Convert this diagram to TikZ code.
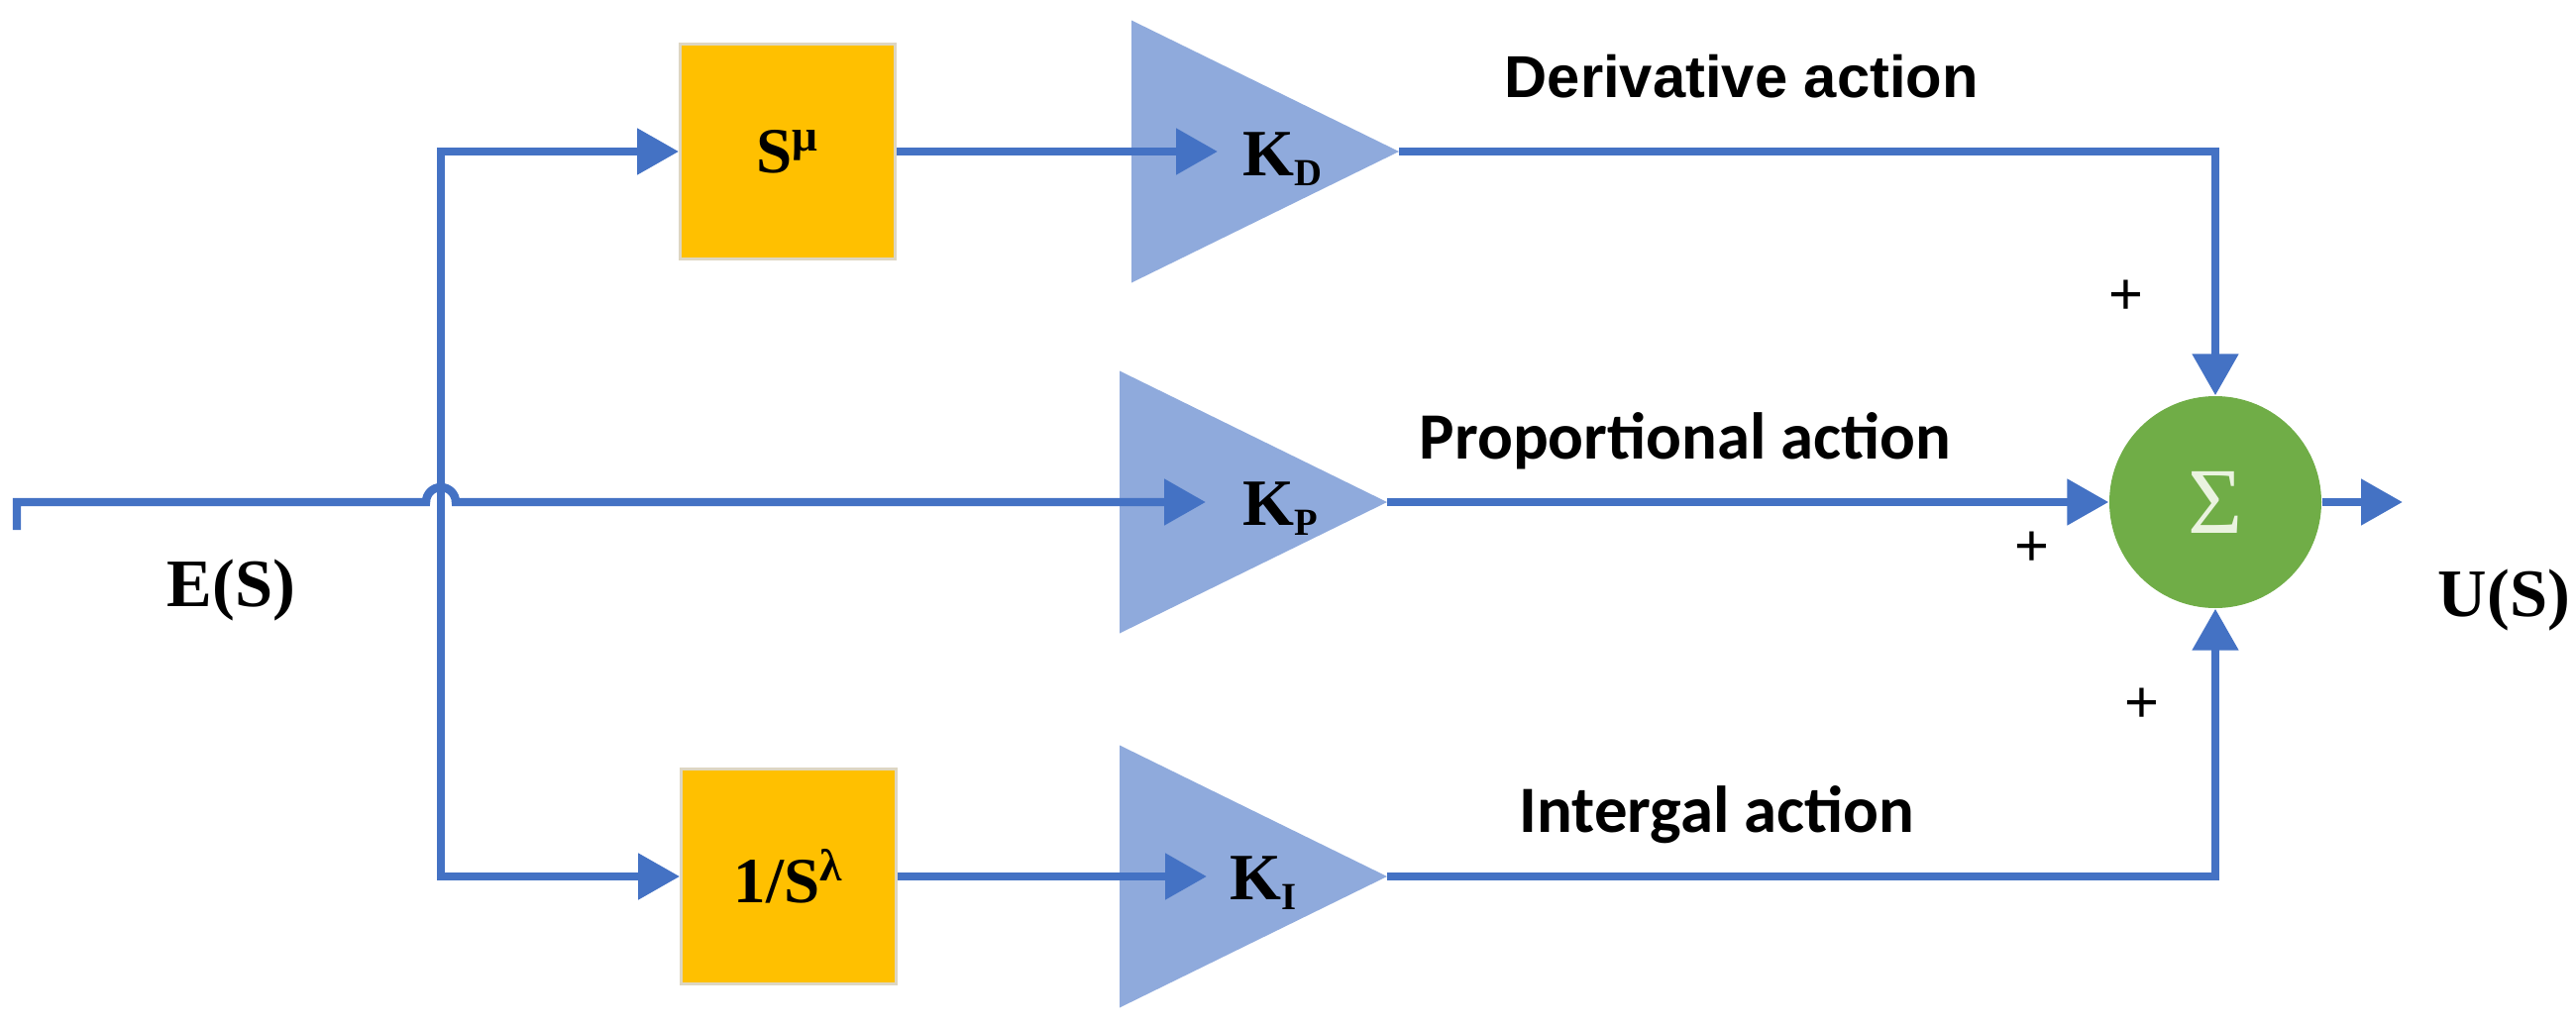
\documentclass[tikz,border=0pt]{standalone}
\usepackage{fontspec}
\setmainfont{Liberation Serif}
\newfontfamily\calfont{Carlito}
\newfontfamily\arialfont{Liberation Sans}
\usetikzlibrary{arrows.meta,shapes.geometric}
\definecolor{wireblue}{HTML}{4472C4}
\definecolor{gainblue}{HTML}{8FAADC}
\definecolor{blockgold}{HTML}{FFC000}
\definecolor{blockrim}{HTML}{DDD6C2}
\definecolor{sumgreen}{HTML}{70AD47}
\definecolor{sigmapale}{HTML}{EAF3E0}
\newcommand{\gsub}[1]{\raisebox{-3pt}{\fontsize{11}{13}\selectfont #1}}

\begin{document}
\begin{tikzpicture}[>={Triangle[length=4.2mm,width=4.5mm]},
  wire/.style={draw=wireblue, line width=2.4pt},
  block/.style={fill=blockgold, draw=blockrim, line width=0.8pt, minimum width=2.17cm, minimum height=2.17cm, inner sep=0pt, font=\fontsize{18.5}{22}\selectfont\bfseries},
  gain/.style={isosceles triangle, isosceles triangle stretches, fill=gainblue, minimum width=2.65cm, minimum height=2.7cm, inner sep=0pt, outer sep=0pt, anchor=west},
  glabel/.style={anchor=base west, inner sep=0pt, font=\fontsize{19}{23}\selectfont\bfseries},
  action/.style={anchor=base west, inner sep=0pt, font=\fontsize{19}{23}\selectfont\calfont\bfseries},
  sign/.style={inner sep=0pt, font=\fontsize{17}{20}\selectfont\arialfont},
  signal/.style={anchor=base west, inner sep=0pt, font=\fontsize{19.5}{23}\selectfont\bfseries}]
\useasboundingbox (0,0) rectangle (26,10.35);

% fractional blocks
\node[block] (smu) at (7.95,8.82) {S\textsuperscript{μ}};
\node[block] (slam) at (7.96,1.50) {1/S\textsuperscript{λ}};

% gains
\node[gain] (kd) at (11.42,8.82) {};
\node[gain] (kp) at (11.30,5.28) {};
\node[gain] (ki) at (11.30,1.50) {};
\node[glabel] (kdl) at ([xshift=1.12cm,yshift=-0.24cm]kd.west) {K\gsub{D}};
\node[glabel] (kpl) at ([xshift=1.24cm,yshift=-0.23cm]kp.west) {K\gsub{P}};
\node[glabel] (kil) at ([xshift=1.11cm,yshift=-0.23cm]ki.west) {K\gsub{I}};

% summing point
\node[circle, fill=sumgreen, minimum size=2.14cm, inner sep=0pt, text=sigmapale, font=\fontsize{27}{30}\selectfont] (sum) at (22.36,5.28) {Σ};

\coordinate (in0) at (0.17,5.00);
\coordinate (in1) at (0.17,5.28);
\coordinate (hop) at (4.30,5.28);
\coordinate (jt) at (4.45,8.82);
\coordinate (jb) at (4.45,1.50);
\coordinate (out) at (24.25,5.28);

% wires
\draw[wire,<->] (smu.west) -- (jt) -- (jb) -- (slam.west);
\draw[wire,->] (in0) -- (in1) -- (hop) arc[start angle=180,end angle=0,radius=0.15] -- ([xshift=0.87cm]kp.west);
\draw[wire,->] (smu.east) -- ([xshift=0.87cm]kd.west);
\draw[wire,->] (slam.east) -- ([xshift=0.88cm]ki.west);
\draw[wire,->] (kd.apex) -| (sum.north);
\draw[wire,->] (kp.apex) -- (sum.west);
\draw[wire,->] (ki.apex) -| (sum.south);
\draw[wire,->] (sum.east) -- (out);

% texts
\node[action, font=\fontsize{17}{20}\selectfont\arialfont\bfseries] (dact) at (15.18,9.37) {Derivative action};
\node[action] (pact) at (14.32,5.72) {Proportional action};
\node[action] (iact) at (15.33,1.95) {Intergal action};
\node[sign] (pd) at (21.46,7.35) {+};
\node[sign] (pp) at (20.51,4.81) {+};
\node[sign] (pi) at (21.62,3.23) {+};
\node[signal] (es) at (1.68,4.23) {E(S)};
\node[signal] (us) at (24.60,4.13) {U(S)};
\end{tikzpicture}
\end{document}
